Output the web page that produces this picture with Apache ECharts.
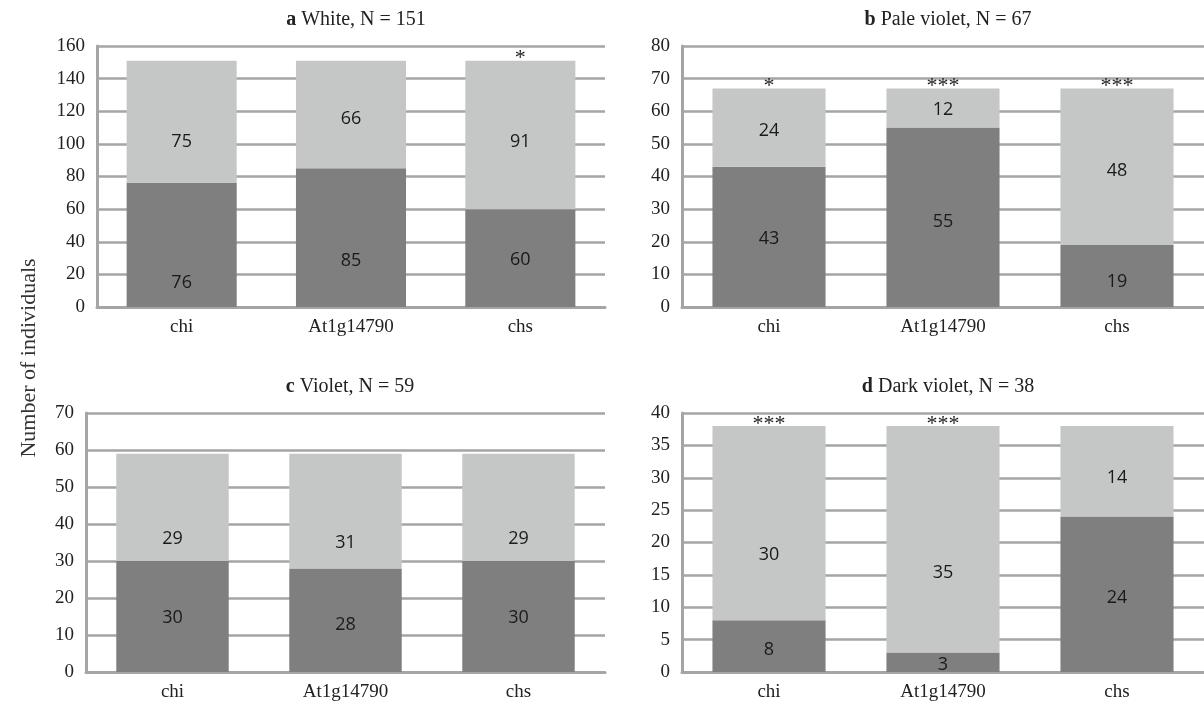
<!DOCTYPE html>
<html>
<head>
<meta charset="utf-8">
<script src="https://cdn.jsdelivr.net/npm/echarts@6/dist/echarts.min.js"></script>
<style>
  html, body { margin: 0; padding: 0; background: #fff; }
  #chart { width: 1204px; height: 705px; }
</style>
</head>
<body>
<div id="chart"></div>
<script>
// Data
const categories = ['chi', 'At1g14790', 'chs'];

const panelLetters = ['a', 'b', 'c', 'd'];
const panelNames = ['White, N = 151', 'Pale violet, N = 67', 'Violet, N = 59', 'Dark violet, N = 38'];

const darkA = [76, 85, 60];
const lightA = [75, 66, 91];
const sigA = ['', '', '*'];

const darkB = [43, 55, 19];
const lightB = [24, 12, 48];
const sigB = ['*', '***', '***'];

const darkC = [30, 28, 30];
const lightC = [29, 31, 29];
const sigC = ['', '', ''];

const darkD = [8, 3, 24];
const lightD = [30, 35, 14];
const sigD = ['***', '***', ''];

const yMax = [160, 80, 70, 40];
const yStep = [20, 10, 10, 5];

// Layout of the four panels (pixels)
const grids = [
    { left: 97,  top: 46,  width: 508, height: 261 },
    { left: 682, top: 46,  width: 522, height: 261 },
    { left: 86,  top: 413, width: 519, height: 259 },
    { left: 682, top: 413, width: 522, height: 259 }
];
const titlePos = [
    { x: 351, y: 5 },
    { x: 943, y: 5 },
    { x: 345, y: 372 },
    { x: 943, y: 372 }
];
// the labels in the original were nudged by hand; vertical shifts in px
const darkShift = [[38, 23, 2], [2, 5, 6], [1, 5, 1], [4, 3, 4]];
const lightShift = [[20, 4, 7], [3, 2, 4], [32, 32, 32], [32, 34, 7]];

const darkAll = [darkA, darkB, darkC, darkD];
const lightAll = [lightA, lightB, lightC, lightD];
const sigAll = [sigA, sigB, sigC, sigD];

const SERIF = '"Liberation Serif", "DejaVu Serif", serif';
const SANS = '"Open Sans", "Noto Sans", sans-serif';
const DARK = '#7f7f7f';
const LIGHT = '#c5c6c6';
const LINE = '#a5a5a5';

const chart = echarts.init(document.getElementById('chart'));

const option = {
    animation: false,
    title: [],
    grid: [],
    xAxis: [],
    yAxis: [],
    series: [],
    graphic: [{
        type: 'text',
        x: 29, y: 358,
        rotation: Math.PI / 2,
        style: {
            text: 'Number of individuals',
            font: '22px ' + SERIF,
            fill: '#333',
            align: 'center',
            verticalAlign: 'middle'
        }
    }]
};

function withShift(values, shifts) {
    return values.map((v, k) => ({ value: v, label: { offset: [0, shifts[k]] } }));
}

for (let i = 0; i < 4; i++) {
    option.title.push({
        text: '{b|' + panelLetters[i] + '} ' + panelNames[i],
        left: titlePos[i].x,
        top: titlePos[i].y,
        textAlign: 'center',
        textStyle: {
            fontFamily: SERIF,
            fontSize: 20,
            fontWeight: 'normal',
            color: '#222',
            rich: { b: { fontFamily: SERIF, fontSize: 20, fontWeight: 'bold', color: '#222' } }
        }
    });
    option.grid.push(Object.assign({ containLabel: false }, grids[i]));
    option.xAxis.push({
        type: 'category',
        gridIndex: i,
        data: categories,
        axisTick: { show: false },
        axisLine: { lineStyle: { color: LINE, width: 3 } },
        axisLabel: { fontFamily: SERIF, fontSize: 19, color: '#222', margin: 11 }
    });
    option.yAxis.push({
        type: 'value',
        gridIndex: i,
        min: 0,
        max: yMax[i],
        interval: yStep[i],
        axisTick: { show: false },
        axisLine: { show: true, lineStyle: { color: LINE, width: 3 } },
        axisLabel: { fontFamily: SERIF, fontSize: 19, color: '#222', margin: 12 },
        splitLine: { lineStyle: { color: LINE, width: 2.5 } }
    });
    const labelStyle = {
        show: true,
        position: 'inside',
        fontFamily: SANS,
        fontSize: 18,
        color: '#1a1a1a'
    };
    option.series.push({
        type: 'bar',
        xAxisIndex: i,
        yAxisIndex: i,
        stack: 'total' + i,
        barCategoryGap: '35%',
        data: withShift(darkAll[i], darkShift[i]),
        itemStyle: { color: DARK },
        label: labelStyle
    });
    option.series.push({
        type: 'bar',
        xAxisIndex: i,
        yAxisIndex: i,
        stack: 'total' + i,
        barCategoryGap: '35%',
        data: withShift(lightAll[i], lightShift[i]),
        itemStyle: { color: LIGHT },
        label: labelStyle
    });
    // significance stars sitting on top of each stack
    const sig = sigAll[i];
    option.series.push({
        type: 'bar',
        xAxisIndex: i,
        yAxisIndex: i,
        stack: 'total' + i,
        barCategoryGap: '35%',
        data: sig.map(() => 0),
        itemStyle: { color: 'rgba(0,0,0,0)' },
        label: {
            show: true,
            position: 'top',
            distance: -9,
            fontFamily: SERIF,
            fontSize: 22,
            color: '#222',
            formatter: p => sig[p.dataIndex]
        }
    });
}

chart.setOption(option);
</script>
</body>
</html>
